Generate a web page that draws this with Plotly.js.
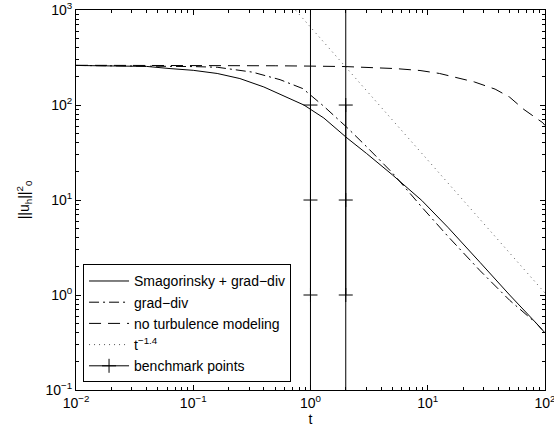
<!DOCTYPE html>
<html>
<head>
<meta charset="utf-8">
<script src="https://cdn.plot.ly/plotly-3.0.1.min.js"></script>
<style>html,body{margin:0;padding:0;background:#fff;}#chart{width:554px;height:435px;}</style>
</head>
<body>
<div id="chart"></div>
<script>
// Smagorinsky + grad-div
const smagT = [0.01, 0.02, 0.04, 0.0634, 0.1, 0.16, 0.25, 0.4, 0.668, 0.88, 1.3, 2.05, 3, 5, 8.9, 15, 28, 50, 85, 100];
const smagV = [261, 260, 255, 242, 232, 215, 190, 155, 117, 100, 73, 45, 31, 18.4, 9.9, 5.1, 2.2, 1.0, 0.5, 0.4];
// grad-div
const gdT = [0.01, 0.02, 0.05, 0.1, 0.16, 0.32, 0.55, 0.86, 1.3, 2.05, 3, 5, 9, 15, 28, 50, 85, 100];
const gdV = [261, 260, 258, 254, 250, 222, 185, 149, 97, 58, 36.6, 19.3, 8.3, 4.1, 1.8, 0.88, 0.5, 0.4];
// no turbulence modeling
const noT = [0.01, 0.1, 0.5, 1, 2, 5.3, 8.6, 12.6, 19, 25, 37.6, 50, 66, 96, 100];
const noV = [262, 262, 259, 257, 254, 242, 231, 215, 192, 175, 147, 121, 90, 65, 61];
// reference power law t^-1.4
const refT = [0.75, 100];
const refV = [990, 1.05];
// benchmark points
const benchT = [1, 2];
const benchV = [1, 10, 100];
const yLimits = [0.1, 1000];

const xTickVals = [0.01, 0.1, 1, 10, 100];
const xTickText = ['10<sup>−2</sup>', '10<sup>−1</sup>', '10<sup>0</sup>', '10<sup>1</sup>', '10<sup>2</sup>'];
const yTickVals = [0.1, 1, 10, 100, 1000];
const yTickText = ['10<sup>−1</sup>', '10<sup>0</sup>', '10<sup>1</sup>', '10<sup>2</sup>', '10<sup>3</sup>'];

function minorVals(majors) {
  const out = [];
  for (let i = 0; i < majors.length - 1; i++) {
    for (let k = 2; k <= 9; k++) out.push(majors[i] * k);
  }
  return out;
}

const vlx = [], vly = [], bx = [], by = [];
benchT.forEach((t, i) => {
  if (i > 0) { vlx.push(null); vly.push(null); bx.push(null); by.push(null); }
  vlx.push(t, t); vly.push(yLimits[0], yLimits[1]);
  benchV.forEach(v => { bx.push(t); by.push(v); });
});

const traces = [
  {x: smagT, y: smagV, mode: 'lines', name: 'Smagorinsky + grad−div',
   line: {color: 'black', width: 1}},
  {x: gdT, y: gdV, mode: 'lines', name: 'grad−div',
   line: {color: 'black', width: 1, dash: '10px,4px,2px,4px'}},
  {x: noT, y: noV, mode: 'lines', name: 'no turbulence modeling',
   line: {color: 'black', width: 1, dash: '12px,7px'}},
  {x: refT, y: refV, mode: 'lines', name: 't<sup>−1.4</sup>',
   line: {color: '#555', width: 1, dash: '1px,4px'}},
  {x: vlx, y: vly, mode: 'lines', showlegend: false, legendgroup: 'b',
   line: {color: 'black', width: 1}, hoverinfo: 'skip'},
  {x: bx, y: by, mode: 'lines+markers', name: 'benchmark points', legendgroup: 'b',
   line: {color: 'black', width: 1},
   marker: {symbol: 'cross-thin', size: 10, color: 'black', line: {color: 'black', width: 1}}}
];

const font = {family: '"Liberation Sans", Arial, Helvetica, sans-serif', size: 14, color: 'black'};

const axisCommon = {
  type: 'log', showline: true, linecolor: 'black', linewidth: 1, mirror: 'allticks',
  ticks: 'inside', ticklen: 5, tickwidth: 1, tickcolor: 'black',
  showgrid: false, zeroline: false, tickmode: 'array', tickfont: font,
  ticklabeloverflow: 'allow'
};

const layout = {
  width: 554, height: 435,
  margin: {l: 76, r: 9, t: 10, b: 45},
  paper_bgcolor: 'white', plot_bgcolor: 'white',
  font: font,
  showlegend: true,
  legend: {x: 0.015, y: 0.02, xanchor: 'left', yanchor: 'bottom',
           bgcolor: 'white', bordercolor: 'black', borderwidth: 1,
           font: {family: font.family, size: 14, color: 'black'},
           tracegroupgap: 0, itemwidth: 40},
  xaxis: Object.assign({}, axisCommon, {
    range: [-2, 2.0005], tickvals: xTickVals, ticktext: xTickText,
    minor: {tickmode: 'array', tickvals: minorVals(xTickVals), ticks: 'inside', ticklen: 3, tickcolor: 'black', showgrid: false},
    title: {text: 't', font: font, standoff: 4}
  }),
  yaxis: Object.assign({}, axisCommon, {
    range: [-1, 3.0005], tickvals: yTickVals, ticktext: yTickText,
    minor: {tickmode: 'array', tickvals: minorVals(yTickVals), ticks: 'inside', ticklen: 3, tickcolor: 'black', showgrid: false},
    title: {text: '||u<sub>h</sub>||<sup>2</sup><sub>0</sub>', font: font, standoff: 12}
  })
};

Plotly.newPlot('chart', traces, layout, {staticPlot: true, displayModeBar: false});
</script>
</body>
</html>
